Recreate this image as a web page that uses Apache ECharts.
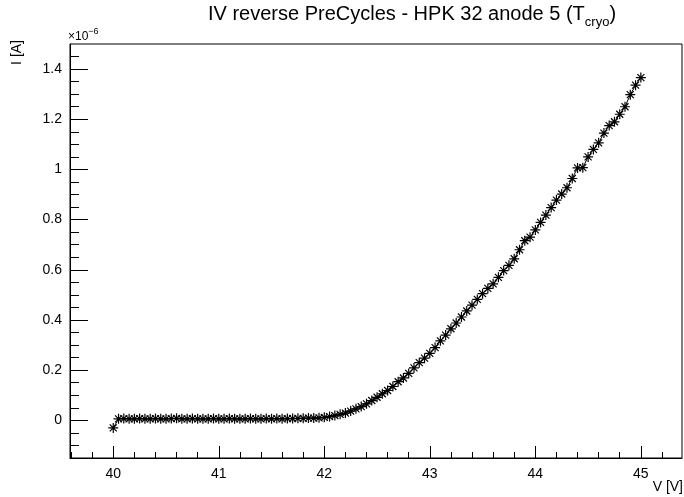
<!DOCTYPE html>
<html>
<head>
<meta charset="utf-8">
<script src="https://cdn.jsdelivr.net/npm/echarts@6/dist/echarts.min.js"></script>
<style>
html,body{margin:0;padding:0;background:#fff;}
#chart{width:684px;height:497px;}
</style>
</head>
<body>
<div id="chart"></div>
<script>
// Voltage (V)
const voltages = [
40.00,40.05,40.10,40.15,40.20,40.25,40.30,40.35,40.40,40.45,
40.50,40.55,40.60,40.65,40.70,40.75,40.80,40.85,40.90,40.95,
41.00,41.05,41.10,41.15,41.20,41.25,41.30,41.35,41.40,41.45,
41.50,41.55,41.60,41.65,41.70,41.75,41.80,41.85,41.90,41.95,
42.00,42.05,42.10,42.15,42.20,42.25,42.30,42.35,42.40,42.45,
42.50,42.55,42.60,42.65,42.70,42.75,42.80,42.85,42.90,42.95,
43.00,43.05,43.10,43.15,43.20,43.25,43.30,43.35,43.40,43.45,
43.50,43.55,43.60,43.65,43.70,43.75,43.80,43.85,43.90,43.95,
44.00,44.05,44.10,44.15,44.20,44.25,44.30,44.35,44.40,44.45,
44.50,44.55,44.60,44.65,44.70,44.75,44.80,44.85,44.90,44.95,
45.00
];
// Current (x1e-6 A)
const currents = [
-0.030,0.006,0.007,0.006,0.006,0.007,0.006,0.006,0.007,0.006,
0.006,0.007,0.008,0.006,0.006,0.007,0.006,0.006,0.006,0.007,
0.006,0.006,0.007,0.006,0.006,0.006,0.007,0.006,0.006,0.007,
0.006,0.007,0.006,0.007,0.007,0.008,0.008,0.009,0.009,0.010,
0.012,0.015,0.019,0.024,0.029,0.037,0.046,0.055,0.066,0.079,
0.092,0.106,0.119,0.135,0.154,0.169,0.187,0.209,0.230,0.248,
0.267,0.290,0.317,0.340,0.365,0.388,0.412,0.436,0.459,0.482,
0.505,0.526,0.544,0.570,0.597,0.618,0.644,0.680,0.716,0.730,
0.759,0.789,0.818,0.848,0.878,0.902,0.927,0.964,1.006,1.007,
1.050,1.080,1.106,1.145,1.175,1.190,1.220,1.250,1.298,1.336,
1.366
];
const xMajorTicks = [40,41,42,43,44,45];
const xMinorTicks = [39.6,39.8,40.2,40.4,40.6,40.8,41.2,41.4,41.6,41.8,42.2,42.4,42.6,42.8,43.2,43.4,43.6,43.8,44.2,44.4,44.6,44.8,45.2];
const yMajorTicks = [0,0.2,0.4,0.6,0.8,1.0,1.2,1.4];
const yMinorTicks = [-0.1,-0.05,0.05,0.1,0.15,0.25,0.3,0.35,0.45,0.5,0.55,0.65,0.7,0.75,0.85,0.9,0.95,1.05,1.1,1.15,1.25,1.3,1.35,1.45];

const FONT = 'Liberation Sans, Arial, Helvetica, sans-serif';
const star = 'path://M0 44L100 44L100 56L0 56Z M44 0L56 0L56 100L44 100Z M10.8 19.2L19.2 10.8L89.2 80.8L80.8 89.2Z M80.8 10.8L89.2 19.2L19.2 89.2L10.8 80.8Z';

const chart = echarts.init(document.getElementById('chart'), null, {renderer:'canvas'});
const xr = {min:39.59, max:45.39};
const yr = {min:-0.15, max:1.5};
chart.setOption({
  animation:false,
  backgroundColor:'#fff',
  grid:{left:70, right:2, top:44, bottom:39, show:true, borderColor:'#000', borderWidth:1, backgroundColor:'transparent'},
  xAxis:[
    {type:'value', min:xr.min, max:xr.max, position:'bottom',
     axisLine:{show:true, onZero:false, lineStyle:{color:'#000', width:1}},
     axisTick:{show:true, inside:true, length:12, customValues:xMajorTicks, lineStyle:{color:'#000'}},
     axisLabel:{show:true, customValues:xMajorTicks, color:'#000', fontSize:14, fontFamily:FONT, margin:9},
     splitLine:{show:false}},
    {type:'value', min:xr.min, max:xr.max, position:'bottom',
     axisLine:{show:false, onZero:false},
     axisTick:{show:true, inside:true, length:6, customValues:xMinorTicks, lineStyle:{color:'#000'}},
     axisLabel:{show:false}, splitLine:{show:false}}
  ],
  yAxis:[
    {type:'value', min:yr.min, max:yr.max, position:'left',
     axisLine:{show:true, onZero:false, lineStyle:{color:'#000', width:1}},
     axisTick:{show:true, inside:true, length:18, customValues:yMajorTicks, lineStyle:{color:'#000'}},
     axisLabel:{show:true, customValues:yMajorTicks, color:'#000', fontSize:14, fontFamily:FONT, margin:8,
       formatter:function(v){return String(Math.round(v*10)/10);}},
     splitLine:{show:false}},
    {type:'value', min:yr.min, max:yr.max, position:'left',
     axisLine:{show:false, onZero:false},
     axisTick:{show:true, inside:true, length:9, customValues:yMinorTicks, lineStyle:{color:'#000'}},
     axisLabel:{show:false}, splitLine:{show:false}}
  ],
  series:[{
    type:'line', xAxisIndex:0, yAxisIndex:0,
    data: voltages.map((v,i)=>[v, currents[i]]),
    showSymbol:true, showAllSymbol:true,
    symbol:star, symbolSize:10,
    itemStyle:{color:'#000'},
    lineStyle:{color:'#000', width:1},
    emphasis:{disabled:true}
  }],
  graphic:[
    {type:'text', left:208, top:4, style:{
      text:'{a|IV reverse PreCycles - HPK 32 anode 5 (T}{b|cryo}{a|)}',
      rich:{
        a:{fontSize:20, fontFamily:FONT, fill:'#000', lineHeight:30, verticalAlign:'middle'},
        b:{fontSize:13, fontFamily:FONT, fill:'#000', lineHeight:30, verticalAlign:'bottom'}
      }}},
    {type:'text', left:68, top:27, style:{
      text:'{a|×10}{s|−6}',
      rich:{
        a:{fontSize:12, fontFamily:FONT, fill:'#000', lineHeight:16, verticalAlign:'bottom'},
        s:{fontSize:9, fontFamily:FONT, fill:'#000', lineHeight:16, verticalAlign:'top'}
      }}},
    {type:'text', x:10, y:40, rotation:Math.PI/2, style:{
      text:'I [A]', font:'14px '+FONT, fill:'#000', align:'right', verticalAlign:'top'}},
    {type:'text', right:1, top:480, style:{
      text:'V [V]', font:'14px '+FONT, fill:'#000'}}
  ]
});
</script>
</body>
</html>
